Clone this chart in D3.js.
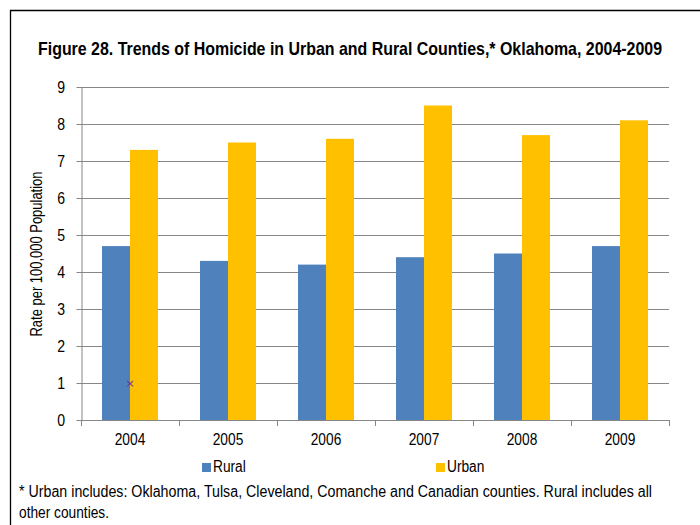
<!DOCTYPE html>
<html>
<head>
<meta charset="utf-8">
<script src="https://cdn.jsdelivr.net/npm/d3@7"></script>
<style>
  html, body { margin: 0; padding: 0; background: #fff; }
  svg { display: block; }
  text { font-family: "Liberation Sans", Arial, sans-serif; fill: #000; }
</style>
</head>
<body>
<svg id="chart" width="700" height="525"></svg>
<script>
const years = ["2004", "2005", "2006", "2007", "2008", "2009"];
const seriesNames = ["Rural", "Urban"];
const rural = [4.7, 4.3, 4.2, 4.4, 4.5, 4.7];
const urban = [7.3, 7.5, 7.6, 8.5, 7.7, 8.1];
const yTicks = [0, 1, 2, 3, 4, 5, 6, 7, 8, 9];
const colors = ["#4F81BD", "#FFC000"];
const strayMarks = [{ year: "2004", value: 1 }];
const titleText = "Figure 28. Trends of Homicide in Urban and Rural Counties,* Oklahoma, 2004-2009";
const yLabel = "Rate per 100,000 Population";
const footnote = ["* Urban includes: Oklahoma, Tulsa, Cleveland, Comanche and Canadian counties. Rural includes all",
                  "other counties."];

const NARROW = 0.88;
const FS = 15.6;
const svg = d3.select("#chart");

// narrow text helper: group translated then x-scaled
function ntext(parent, x, y, str, opts = {}) {
  const g = parent.append("g").attr("transform", `translate(${x},${y}) ${opts.rotate ? "rotate(" + opts.rotate + ")" : ""} scale(${NARROW},1)`);
  const t = g.append("text").attr("x", 0).attr("y", 0)
    .attr("font-size", opts.size || FS)
    .attr("text-anchor", opts.anchor || "start")
    .text(str);
  if (opts.bold) t.attr("font-weight", "bold");
  if (opts.len) t.attr("textLength", opts.len / NARROW).attr("lengthAdjust", "spacingAndGlyphs");
  return t;
}

// frame
svg.append("path")
  .attr("d", "M10.5,525 V10.5 H700")
  .attr("fill", "none").attr("stroke", "#000").attr("stroke-width", 1.3);

const plot = { left: 81, right: 669, top: 87, bottom: 420 };

const x0 = d3.scaleBand().domain(years).range([plot.left, plot.right]).paddingInner(0.4286).paddingOuter(0.2143);
const x1 = d3.scaleBand().domain(seriesNames).range([0, x0.bandwidth()]);
const y = d3.scaleLinear().domain([0, 9]).range([plot.bottom, plot.top]);

// gridlines
svg.append("g").selectAll("line").data(yTicks.filter(d => d > 0)).join("line")
  .attr("x1", plot.left).attr("x2", plot.right)
  .attr("y1", d => Math.round(y(d)) + 0.5).attr("y2", d => Math.round(y(d)) + 0.5)
  .attr("stroke", "#868686").attr("stroke-width", 1);

// bars
const data = years.map((yr, i) => ({ year: yr, vals: [rural[i], urban[i]] }));
const g = svg.append("g").selectAll("g").data(data).join("g")
  .attr("transform", d => `translate(${x0(d.year)},0)`);
g.selectAll("rect").data(d => d.vals.map((v, j) => ({ key: seriesNames[j], v, j }))).join("rect")
  .attr("x", d => x1(d.key)).attr("width", x1.bandwidth())
  .attr("y", d => y(d.v)).attr("height", d => y(0) - y(d.v))
  .attr("fill", d => colors[d.j]);

// y axis (line and ticks via d3 axis, labels narrow)
const yAxis = svg.append("g").attr("transform", `translate(${plot.left + 0.5},0)`)
  .call(d3.axisLeft(y).tickValues(yTicks).tickSize(5).tickSizeOuter(0).tickFormat(""));
yAxis.select(".domain").attr("stroke", "#868686");
yAxis.selectAll(".tick line").attr("stroke", "#868686");
const yl = svg.append("g");
yTicks.forEach(v => ntext(yl, 65, y(v) + 5.5, String(v), { anchor: "end", size: 16 }));

// x axis
const boundaries = d3.range(years.length + 1).map(i => plot.left + i * (plot.right - plot.left) / years.length);
svg.append("line").attr("x1", plot.left).attr("x2", plot.right)
  .attr("y1", plot.bottom + 0.5).attr("y2", plot.bottom + 0.5).attr("stroke", "#868686");
svg.append("g").selectAll("line").data(boundaries).join("line")
  .attr("x1", d => Math.round(d) + 0.5).attr("x2", d => Math.round(d) + 0.5)
  .attr("y1", plot.bottom).attr("y2", plot.bottom + 6).attr("stroke", "#868686");
const xl = svg.append("g");
years.forEach(d => ntext(xl, x0(d) + x0.bandwidth() / 2, 445, d, { anchor: "middle" }));

// stray marker
svg.append("g").selectAll("text").data(strayMarks).join("text")
  .attr("x", d => x0(d.year) + x0.bandwidth() / 2).attr("y", d => y(d.value) + 4)
  .attr("text-anchor", "middle").attr("font-size", 11).style("fill", "#7030A0")
  .style("font-family", "DejaVu Sans").text("×");

// title
ntext(svg, 350, 55, titleText, { anchor: "middle", bold: true, size: 18, len: 624 });

// y label
ntext(svg, 42, 254, yLabel, { anchor: "middle", rotate: -90, size: 16, len: 165 });

// legend
const legendX = [202, 436];
seriesNames.forEach((s, i) => {
  svg.append("rect").attr("x", legendX[i]).attr("y", 463).attr("width", 9).attr("height", 9).attr("fill", colors[i]);
  ntext(svg, legendX[i] + 11, 472, s);
});

// footnote
ntext(svg, 19, 497, footnote[0], { len: 633 });
ntext(svg, 19, 518, footnote[1]);
</script>
</body>
</html>
